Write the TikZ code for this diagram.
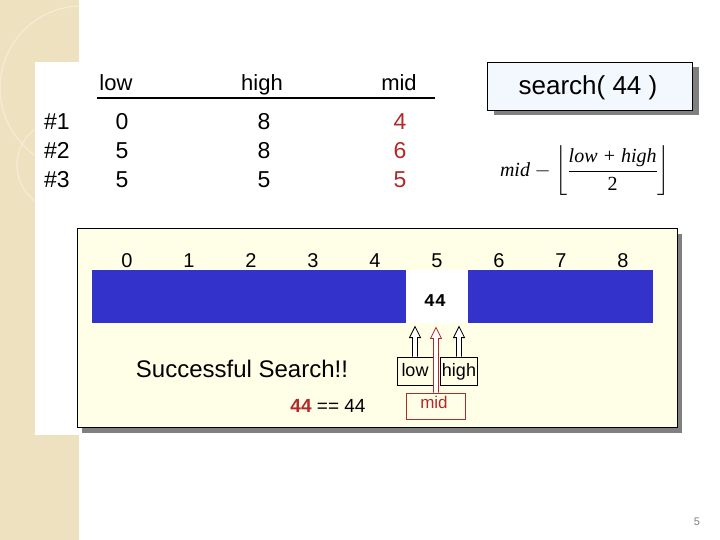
\documentclass[tikz,border=0pt]{standalone}
\usepackage{amsmath}
\usepackage[no-math]{fontspec}
\setmainfont{Liberation Sans}
\newfontfamily\monof{Liberation Mono}
\newfontfamily\serf{Liberation Serif}
\usetikzlibrary{shadows}
\definecolor{stripcol}{RGB}{238,225,192}
\definecolor{arcol}{RGB}{245,236,214}
\definecolor{panelcol}{RGB}{255,255,232}
\definecolor{searchcol}{RGB}{242,248,253}
\definecolor{barblue}{RGB}{51,51,204}
\definecolor{darkred}{RGB}{180,40,40}
\definecolor{shadowgray}{RGB}{128,128,128}
\tikzset{
  hdr/.style={font=\fontsize{22}{26}\selectfont, inner sep=0pt, anchor=base},
  cell/.style={font=\fontsize{23}{26}\selectfont, inner sep=0pt, anchor=base},
  midval/.style={cell, text=darkred},
  idx/.style={font=\fontsize{20}{24}\selectfont, inner sep=0pt, anchor=base},
  ptrbox/.style={draw=black, fill=panelcol, line width=0.8pt, inner sep=0pt,
    minimum height=28pt},
  ptrtext/.style={inner sep=0pt, anchor=base, font=\fontsize{18}{20}\selectfont},
  pics/uparr/.style 2 args={code={
    \draw[draw=#2, fill=white, line width=0.8pt, line join=miter]
      (-2.5,0) -- (-2.5,-#1+11) -- (-5.5,-#1+11) -- (0,-#1) -- (5.5,-#1+11)
      -- (2.5,-#1+11) -- (2.5,0);
  }}
}
\newcommand{\sit}[1]{\mbox{\serf\itshape #1}}
\begin{document}
\begin{tikzpicture}[x=1pt,y=-1pt]
\useasboundingbox (0,0) rectangle (720,540);
\fill[white] (0,0) rectangle (720,540);
% left decorative strip
\fill[stripcol] (0,0) rectangle (79,540);
\begin{scope}
  \clip (0,0) rectangle (79,540);
  \draw[arcol, line width=1.2pt] (82,88) circle (82);
  \draw[arcol, line width=1.2pt] (62,165) circle (45);
\end{scope}
\fill[white] (35,62) rectangle (79,435);

% table
\node[hdr] (hlow) at (116,91) {low};
\node[hdr] (hhigh) at (262,91) {high};
\node[hdr] (hmid) at (399,91) {mid};
\draw[line width=1.3pt] (97,98) -- (435,98);
\node[cell] (r1) at (57,130) {\#1};
\node[cell] (r2) at (57,159) {\#2};
\node[cell] (r3) at (57,188) {\#3};
\node[cell] (l1) at (122,130) {0};
\node[cell] (l2) at (122,159) {5};
\node[cell] (l3) at (122,188) {5};
\node[cell] (h1) at (264,130) {8};
\node[cell] (h2) at (264,159) {8};
\node[cell] (h3) at (264,188) {5};
\node[midval] (m1) at (400,130) {4};
\node[midval] (m2) at (400,159) {6};
\node[midval] (m3) at (400,188) {5};

% search box
\node[draw=black, fill=searchcol, line width=0.8pt, minimum width=205pt, minimum height=48pt,
      drop shadow={shadow xshift=6pt, shadow yshift=-5pt, fill=shadowgray, opacity=1}]
      (search) at (590,86) {};
\node[inner sep=0pt, anchor=base, font=\fontsize{26}{30}\selectfont] (stext) at (588,95) {search( 44 )};

% formula
\node[inner sep=0pt, font=\fontsize{20}{24}\selectfont] (formula) at (585,171)
  {$\sit{mid} - \left\lfloor \dfrac{\sit{low + high}}{\mbox{\serf 2}} \right\rfloor$};

% main panel
\node[draw=black, fill=panelcol, line width=0.8pt, minimum width=600pt, minimum height=199pt,
      drop shadow={shadow xshift=5pt, shadow yshift=-6pt, fill=shadowgray, opacity=1}]
      (panel) at (377,327.5) {};

% array bar
\fill[barblue] (92,270) rectangle (653,323);
\node[fill=white, minimum width=62pt, minimum height=53pt, inner sep=0pt] (cell5) at (437,296.5) {};
\node[inner sep=0pt, anchor=base, font=\monof\bfseries\fontsize{18}{20}\selectfont] (v5) at (435,306) {44};
\foreach \i in {0,...,8} {
  \node[idx] (i\i) at ({127+62*\i},267) {\i};
}

% pointer boxes and arrows
\node[ptrbox, minimum width=36pt] (lowbox) at (415,371) {};
\node[ptrtext] (lowt) at (415,376) {low};
\node[ptrbox, minimum width=37pt] (highbox) at (459,371) {};
\node[ptrtext] (hight) at (459,376) {high};
\node[draw=darkred, fill=panelcol, line width=0.9pt, minimum width=59pt, minimum height=26pt,
      inner sep=0pt] (midbox) at (436,406) {};
\node[inner sep=0pt, anchor=base, text=darkred, font=\fontsize{17}{19}\selectfont] (midt) at (434,408) {mid};
\pic at (lowbox.north) {uparr={30}{black}};
\pic at (highbox.north) {uparr={30}{black}};
\pic at (midbox.north) {uparr={65}{darkred}};

% messages
\node[inner sep=0pt, anchor=base, font=\fontsize{24}{28}\selectfont] (succ) at (242,377) {Successful Search!!};
\node[inner sep=0pt, anchor=base, font=\fontsize{19}{22}\selectfont] (cmp) at (328,412)
  {\textcolor{darkred}{\textbf{44}} == 44};

% page number
\node[inner sep=0pt, text=gray, font=\fontsize{11}{13}\selectfont] (page) at (697,522) {5};
\end{tikzpicture}
\end{document}
